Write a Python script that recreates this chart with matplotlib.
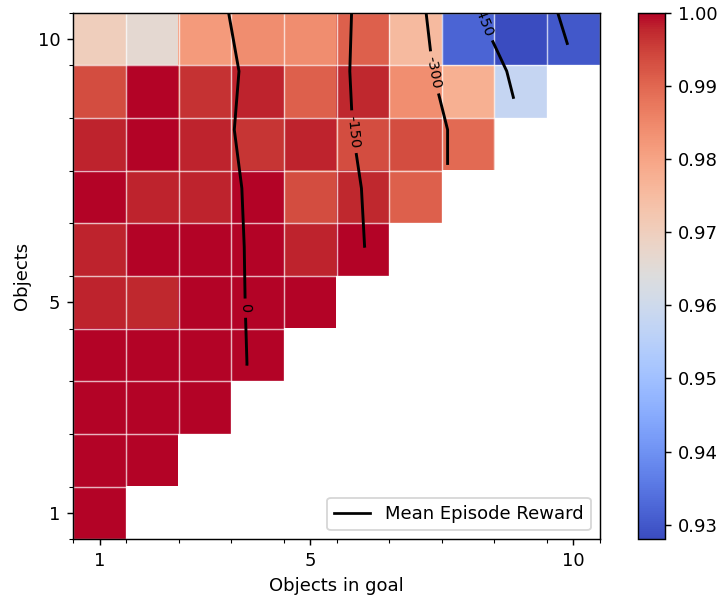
import numpy as np
import matplotlib
matplotlib.use("Agg")
import matplotlib.pyplot as plt
from matplotlib.lines import Line2D

# ---------------- data ----------------
objects = list(range(1, 11))          # y axis
objects_in_goal = list(range(1, 11))  # x axis

# success rate, one row per number of objects (goal counts 1..objects)
success_rows = [
    [1.0],
    [1.0, 1.0],
    [1.0, 1.0, 1.0],
    [1.0, 1.0, 1.0, 1.0],
    [0.998, 0.9975, 1.0, 1.0, 1.0],
    [0.998, 1.0, 1.0, 1.0, 0.998, 1.0],
    [1.0, 0.998, 0.998, 1.0, 0.9935, 0.9975, 0.991],
    [0.998, 1.0, 0.998, 0.9962, 0.998, 0.9935, 0.9935, 0.9895],
    [0.9935, 1.0, 0.9965, 0.998, 0.991, 0.9975, 0.9838, 0.9775, 0.958],
    [0.970, 0.966, 0.982, 0.984, 0.984, 0.991, 0.9755, 0.932, 0.928, 0.930],
]

# mean episode reward, same layout
reward_rows = [
    [150],
    [150, 110],
    [150, 110, 60],
    [150, 110, 65, -2],
    [150, 110, 62, -4, -90],
    [150, 110, 60, -5, -100, -151],
    [140, 100, 60, -8, -100, -154, -237],
    [140, 100, 55, -18, -105, -163, -237, -395],
    [130, 90, 50, -10, -110, -165, -280, -416, -499],
    [120, 80, 40, -21, -100, -166, -295, -455, -552, -723],
]

contour_levels = [-600, -450, -300, -150, 0]
x_ticks = [1, 5, 10]
y_ticks = [1, 5, 10]
cbar_ticks = [0.93, 0.94, 0.95, 0.96, 0.97, 0.98, 0.99, 1.00]
legend_label = "Mean Episode Reward"

# label positions (data coords) for contour labels
label_positions = [(3.80, 4.89), (5.89, 8.25), (7.37, 9.37), (8.30, 10.35)]

# ---------------- build grids ----------------
n = len(objects)
succ = np.full((n, n), np.nan)
rew = np.full((n, n), np.nan)
for j, row in enumerate(success_rows):
    succ[j, :len(row)] = row
for j, row in enumerate(reward_rows):
    rew[j, :len(row)] = row

ext = (objects_in_goal[0] - 0.5, objects_in_goal[-1] + 0.5,
       objects[0] - 0.5, objects[-1] + 0.5)

# ---------------- figure ----------------
W, H, DPI = 719, 603, 130
fig = plt.figure(figsize=(W / DPI, H / DPI), dpi=DPI)
ax = fig.add_axes([73 / W, 63.7 / H, 527 / W, 526.6 / H])
cax = fig.add_axes([638.3 / W, 63.7 / H, 26.7 / W, 526.3 / H])

im = ax.imshow(np.ma.masked_invalid(succ), cmap="coolwarm", origin="lower",
               extent=ext, interpolation="nearest")

cs = ax.contour(np.ma.masked_invalid(rew), levels=contour_levels,
                colors="k", linestyles="solid", linewidths=1.6, extent=ext)
ax.clabel(cs, inline=True, fontsize=8, fmt="%1.0f", manual=label_positions)

ax.set_xlim(ext[0], ext[1])
ax.set_ylim(ext[2], ext[3])
ax.set_xticks(x_ticks)
ax.set_yticks(y_ticks)
ax.set_xticks(np.arange(ext[0], ext[1] + 0.01, 1.0), minor=True)
ax.set_yticks(np.arange(ext[2], ext[3] + 0.01, 1.0), minor=True)
ax.grid(which="minor", color="white", linewidth=0.8, alpha=0.7)
ax.grid(which="major", visible=False)

ax.set_xlabel("Objects in goal")
ax.set_ylabel("Objects")

ax.legend(handles=[Line2D([], [], color="k", lw=1.5, label=legend_label)],
          loc="lower right")

cb = fig.colorbar(im, cax=cax)
cb.set_ticks(cbar_ticks)
cb.ax.yaxis.set_major_formatter(matplotlib.ticker.FormatStrFormatter("%.2f"))

fig.savefig("out.png", dpi=DPI)
